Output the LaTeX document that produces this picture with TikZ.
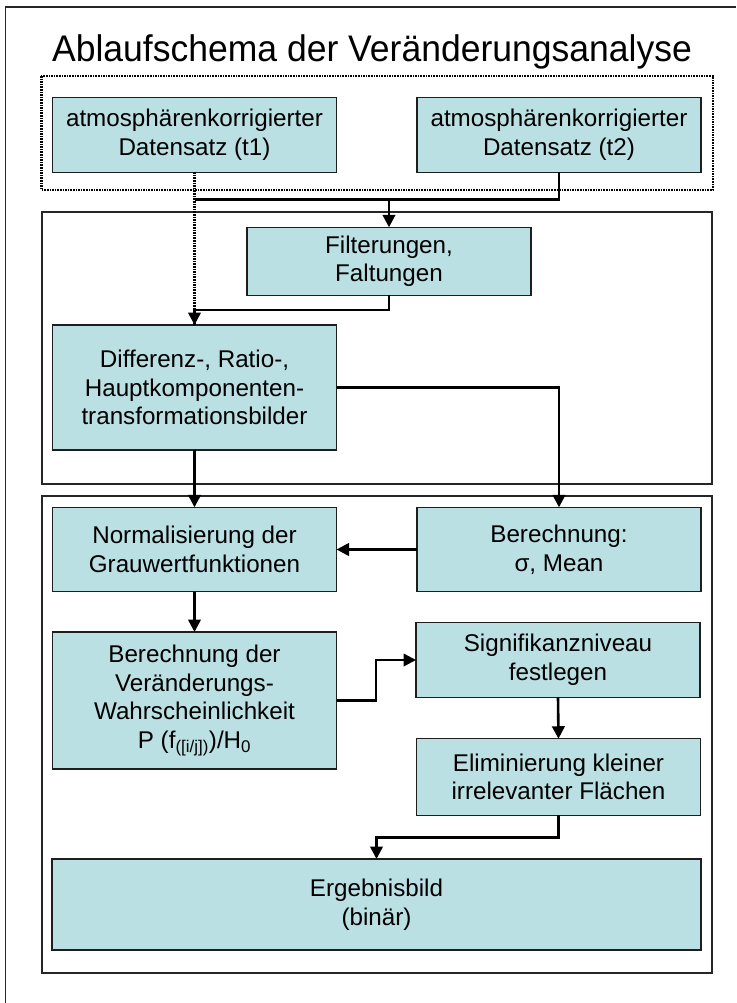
\documentclass[tikz,border=0pt]{standalone}
\usepackage{fontspec}
\setmainfont{Liberation Sans}
\newfontfamily\boxfont{Liberation Sans}
\newfontfamily\headfont[FakeStretch=0.96]{Liberation Sans}
\usetikzlibrary{arrows.meta}
\definecolor{boxfill}{RGB}{187,224,227}
\definecolor{boxline}{RGB}{30,30,30}
\begin{document}
\begin{tikzpicture}[x=1pt,y=-1pt,
  stage/.style={draw=boxline, line width=1.3pt, fill=boxfill, outer sep=0pt,
    inner sep=2pt, minimum width=284pt, align=center,
    font={\boxfont\fontsize{24.2}{28.6}\selectfont}},
  flow/.style={line width=2.6pt, -{Triangle[length=12.5pt,width=12.5pt]}},
  link/.style={line width=2.6pt},
  frame/.style={draw=black!85, line width=1.7pt},
  dots/.style={line width=2.6pt, dash pattern=on 1.6pt off 1pt}]
\useasboundingbox (0,0) rectangle (736,1003);

% outer page frame
\draw[frame] (5.5,1003) -- (5.5,7.3) -- (736,7.3);

% heading
\node[font={\headfont\fontsize{37}{44}\selectfont}, anchor=base, inner sep=0pt]
  (title) at (372,62) {Ablaufschema der Veränderungsanalyse};

% group frames
\draw[dots] (41.3,76) rectangle (713,190);
\draw[frame] (41.7,211.7) rectangle (711.7,484);
\draw[frame] (41.7,495.7) rectangle (711.7,973);

% process steps
\node[stage, minimum height=74.6pt] (t1) at (194.5,135) {atmosphärenkorrigierter\\Datensatz (t1)};
\node[stage, minimum height=74.6pt] (t2) at (559,135) {atmosphärenkorrigierter\\Datensatz (t2)};
\node[stage, minimum height=68pt] (filter) at (389,261.3) {Filterungen,\\Faltungen};
\node[stage, minimum height=125pt] (diff) at (194.5,387.5) {Differenz-, Ratio-,\\Hauptkomponenten-\\transformationsbilder};
\node[stage, minimum height=84.4pt] (norm) at (194.5,549.5) {Normalisierung der\\Grauwertfunktionen};
\node[stage, minimum height=84.4pt] (sigma) at (559,549.5) {Berechnung:\\σ, Mean};
\node[stage, minimum height=137pt] (prob) at (194.5,700.5) {Berechnung der\\Veränderungs-\\Wahrscheinlichkeit\\P (f\textsubscript{([i/j])})/H\textsubscript{0}};
\node[stage, minimum height=75pt] (signif) at (558,660) {Signifikanzniveau\\festlegen};
\node[stage, minimum height=76.5pt] (elim) at (558.5,777) {Eliminierung kleiner\\irrelevanter Flächen};
\node[stage, minimum width=649pt, minimum height=91pt] (result) at (376.5,904.5) {Ergebnisbild\\(binär)};

% connectors
\coordinate (bus) at (194.5,199.3);
\draw[dots] (t1.south) -- (diff.north);
\draw[link] (t2.south) |- (bus);
\draw[flow] (bus -| filter.north) -- (filter.north);
\draw[flow] (filter.south) -- ++(0,14.7) -| (diff.north);
\draw[flow] (diff.east) -| (sigma.north);
\draw[flow] (diff.south) -- (norm.north);
\draw[flow] (sigma.west) -- (norm.east);
\draw[flow] (norm.south) -- (prob.north);
\draw[flow] (prob.east) -- (376,700.5) |- (signif.west);
\draw[flow] (signif.south) -- (elim.north);
\draw[flow] (elim.south) -- ++(0,22) -| (result.north);
\end{tikzpicture}
\end{document}
